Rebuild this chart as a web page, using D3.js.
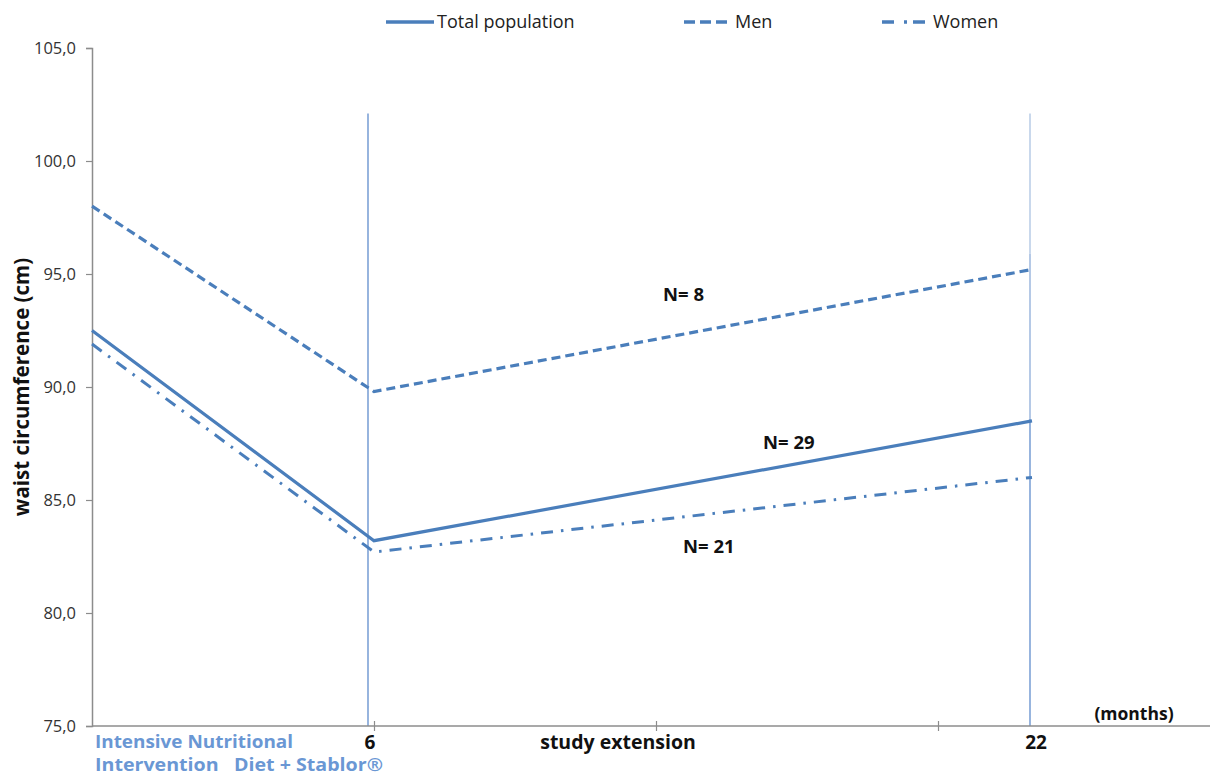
<!DOCTYPE html>
<html><head><meta charset="utf-8">
<script src="https://cdn.jsdelivr.net/npm/d3@7"></script>
<style>
body{margin:0;background:#fff;}
text{font-family:"Open Sans","Liberation Sans",sans-serif;}
</style></head>
<body><svg id="chart" width="1212" height="776"></svg>
<script>
const months = [0, 6, 22];
const totalPop = [92.5, 83.2, 88.5];
const men = [98.0, 89.8, 95.2];
const women = [91.9, 82.7, 86.0];
const yTicks = [75, 80, 85, 90, 95, 100, 105];
const seriesNames = ["Total population", "Men", "Women"];
const nLabels = ["N= 29", "N= 8", "N= 21"];

const svg = d3.select("#chart");
const color = "#4a7ebb";
const y = d3.scaleLinear().domain([75, 105]).range([726, 48]);
const x = d3.scaleLinear().domain([0, 6, 22]).range([92, 374, 1032]);
const cat = d3.scaleLinear().domain([0, 4]).range([92, 1220]);

// vertical markers
const vTop = y(102.1);
svg.append("line").attr("x1", x(6) - 6).attr("x2", x(6) - 6).attr("y1", vTop).attr("y2", y(75))
  .attr("stroke", "#7ea2d6").attr("stroke-width", 1.6);
const v22 = x(22) - 2;
[[102.1, 95.9, "#bccfe8"], [95.9, 88.6, "#a3bce0"], [88.6, 75, "#7ea2d6"]].forEach(s => {
  svg.append("line").attr("x1", v22).attr("x2", v22).attr("y1", y(s[0])).attr("y2", y(s[1]))
    .attr("stroke", s[2]).attr("stroke-width", 1.6);
});

// y axis
const yAxis = d3.axisLeft(y).tickValues(yTicks).tickSize(6).tickFormat(d => d3.format(".1f")(d).replace(".", ","));
const ya = svg.append("g").attr("transform", "translate(92,0)").call(yAxis);
ya.select(".domain").attr("stroke", "#8c8c8c").attr("stroke-width", 1.5);
ya.selectAll(".tick line").attr("stroke", "#8c8c8c").attr("stroke-width", 1.2);
ya.selectAll(".tick text").attr("font-size", 16.5).attr("fill", "#333").attr("x", -16)
  .style("font-family", "'Open Sans', sans-serif");

// x axis
const xAxis = d3.axisBottom(cat).tickValues([1, 2, 3]).tickSize(0).tickFormat("");
const xa = svg.append("g").attr("transform", "translate(0,726)").call(xAxis);
xa.select(".domain").attr("d", "M92,0H1210").attr("stroke", "#8c8c8c").attr("stroke-width", 1.5);
xa.selectAll(".tick line").attr("y1", -5).attr("y2", 5).attr("stroke", "#8c8c8c").attr("stroke-width", 1.2);

// series lines
const line = d3.line().x((d, i) => x(months[i])).y(d => y(d));
const series = [
  {vals: totalPop, dash: null, w: 3.2},
  {vals: men, dash: "9,5", w: 3.2},
  {vals: women, dash: "12,8,2.5,8", w: 3}
];
series.forEach(s => {
  svg.append("path").datum(s.vals).attr("d", line).attr("fill", "none")
    .attr("stroke", color).attr("stroke-width", s.w)
    .attr("stroke-dasharray", s.dash).attr("stroke-linejoin", "miter");
});

// legend
const legendX = [386, 684, 882];
const legendTextX = [437, 735, 933];
series.forEach((s, i) => {
  svg.append("line").attr("x1", legendX[i]).attr("x2", legendTextX[i] - 3).attr("y1", 22).attr("y2", 22)
    .attr("stroke", color).attr("stroke-width", 3.5)
    .attr("stroke-dasharray", i === 0 ? null : (i === 1 ? "11,5" : "12,10,3,6"));
  svg.append("text").attr("x", legendTextX[i]).attr("y", 28).attr("font-size", 18).attr("fill", "#222")
    .text(seriesNames[i]);
});

// N labels
const nPos = [[763, 449], [663, 301], [683, 553]];
nLabels.forEach((t, i) => {
  svg.append("text").attr("x", nPos[i][0]).attr("y", nPos[i][1]).attr("font-size", 18.5)
    .attr("font-weight", "bold").attr("fill", "#111").text(t);
});

// y label
svg.append("text").attr("transform", "translate(29,387) rotate(-90)").attr("text-anchor", "middle")
  .attr("font-size", 20.5).attr("font-weight", "bold").attr("fill", "#111").text("waist circumference (cm)");

// x labels
const lblColor = "#6a97d4";
svg.append("text").attr("x", 95).attr("y", 748).attr("font-size", 17.5).attr("font-weight", "bold")
  .attr("textLength", 198).attr("lengthAdjust", "spacingAndGlyphs")
  .attr("fill", lblColor).text("Intensive Nutritional");
svg.append("text").attr("x", 95).attr("y", 770.5).attr("font-size", 17.5).attr("font-weight", "bold")
  .attr("textLength", 288).attr("lengthAdjust", "spacingAndGlyphs")
  .attr("fill", lblColor).attr("xml:space", "preserve").text("Intervention   Diet + Stablor®");
svg.append("text").attr("x", x(6) - 4).attr("y", 749).attr("text-anchor", "middle").attr("font-size", 19)
  .attr("font-weight", "bold").attr("fill", "#111").text("6");
svg.append("text").attr("x", 618).attr("y", 749).attr("text-anchor", "middle").attr("font-size", 19.5)
  .attr("font-weight", "bold").attr("fill", "#111").text("study extension");
svg.append("text").attr("x", x(22) + 4).attr("y", 749).attr("text-anchor", "middle").attr("font-size", 19)
  .attr("font-weight", "bold").attr("fill", "#111").text("22");
svg.append("text").attr("x", 1134).attr("y", 720).attr("text-anchor", "middle").attr("font-size", 17.5)
  .attr("font-weight", "bold").attr("fill", "#111").text("(months)");
</script></body></html>
